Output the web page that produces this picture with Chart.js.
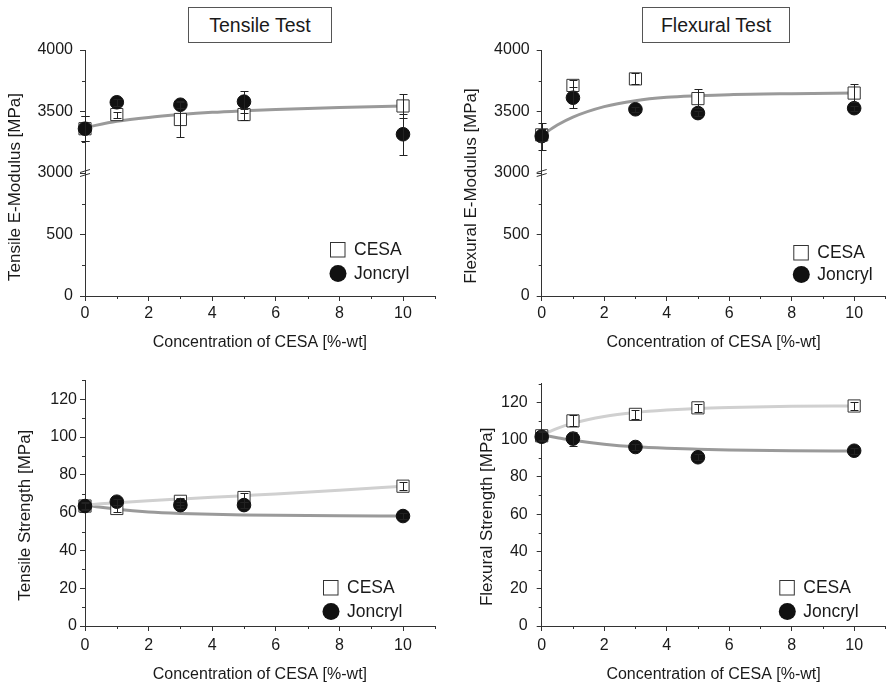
<!DOCTYPE html>
<html>
<head>
<meta charset="utf-8">
<script src="https://cdn.jsdelivr.net/npm/chart.js@4.4.1/dist/chart.umd.min.js"></script>
<style>
  body { margin: 0; width: 890px; height: 686px; overflow: hidden; background: #fff; position: relative; }
  canvas { position: absolute; }
  .ttl {
    position: absolute; box-sizing: border-box; border: 1px solid #555; color: #1a1a1a;
    font: 19.5px "Liberation Sans", Arial, sans-serif;
    display: flex; align-items: center; justify-content: center;
  }
</style>
</head>
<body>
<div class="ttl" style="left:188px;top:7px;width:144px;height:36px">Tensile Test</div>
<div class="ttl" style="left:642px;top:7px;width:148px;height:36px">Flexural Test</div>
<canvas id="tensMod" width="445" height="365" style="left:0;top:0"></canvas>
<canvas id="flexMod" width="450" height="365" style="left:445px;top:0"></canvas>
<canvas id="tensStr" width="445" height="321" style="left:0;top:365px"></canvas>
<canvas id="flexStr" width="450" height="321" style="left:445px;top:365px"></canvas>
<script>
// concentration of CESA [%-wt]
const conc = [0, 1, 3, 5, 10];
const xTickLabels = [0, 2, 4, 6, 8, 10];
const xMinorTicks = [1, 3, 5, 7, 9, 11];

const modTickLabels = [0, 500, 3000, 3500, 4000];
const modMinorTicks = [250, 750, 3250, 3750];
const strTickLabels = [0, 20, 40, 60, 80, 100, 120];
const strMinorTicks = [10, 30, 50, 70, 90, 110, 130];

// tensile E-modulus [MPa]
const tensModCesa = [3360, 3475, 3435, 3475, 3545];
const tensModCesaErr = [100, 25, 140, 45, 100];
const tensModJon = [3360, 3575, 3555, 3580, 3315];
const tensModJonErr = [100, 30, 30, 90, 165];
const tensModFitX = [0, 1, 2, 3, 4, 5, 6, 8, 10];
const tensModFit = [3370, 3420, 3452, 3475, 3493, 3506, 3517, 3533, 3545];

// flexural E-modulus [MPa]
const flexModCesa = [3310, 3712, 3765, 3605, 3650];
const flexModCesaErr = [50, 45, 45, 75, 75];
const flexModJon = [3300, 3612, 3518, 3487, 3527];
const flexModJonErr = [110, 85, 20, 20, 20];
const flexModFitX = [0, 0.5, 1, 2, 3, 4, 5, 6, 8, 10];
const flexModFit = [3305, 3390, 3455, 3540, 3588, 3615, 3628, 3637, 3645, 3650];

// strength fits share one x grid
const strFitX = [0, 0.5, 1, 2, 3, 4, 5, 6, 8, 10];

// tensile strength [MPa]
const tensStrCesa = [63.5, 62.2, 66, 68, 74];
const tensStrCesaErr = [2, 2, 2, 2.5, 2];
const tensStrJon = [63.5, 65.8, 64, 64, 58.2];
const tensStrJonErr = [1.5, 1.5, 1.5, 1.5, 1.5];
const tensStrCesaFit = [64, 64.7, 65.3, 66.3, 67.2, 68.1, 69, 69.9, 71.9, 74];
const tensStrJonFit = [64, 62.8, 61.8, 60.4, 59.6, 59.1, 58.8, 58.6, 58.3, 58.2];

// flexural strength [MPa]
const flexStrCesa = [102, 110, 113.5, 117, 118];
const flexStrCesaErr = [2.5, 3, 2.5, 2, 2];
const flexStrJon = [101.5, 100.5, 96, 90.5, 94];
const flexStrJonErr = [2.5, 3.7, 1.5, 1.5, 1.5];
const flexStrCesaFit = [102.5, 106, 108.8, 112.4, 114.5, 115.8, 116.7, 117.2, 117.8, 118];
const flexStrJonFit = [102.5, 101, 99.6, 97.5, 96.1, 95.3, 94.8, 94.4, 94, 93.8];

const FONT = '"Liberation Sans", Arial, sans-serif';
const TEXT = '#1a1a1a';
const AXIS = '#333';

// broken y axis: 0..1000 then 3000..4000 glued together
const brk = v => v >= 3000 ? v - 2000 : v;
const same = v => v;

const pts = (xs, ys, f) => xs.map((x, i) => ({ x, y: f(ys[i]) }));

const errorBars = {
  id: 'errorBars',
  afterDatasetsDraw(chart) {
    const ctx = chart.ctx, y = chart.scales.y;
    ctx.save();
    ctx.strokeStyle = '#222';
    ctx.lineWidth = 1;
    chart.data.datasets.forEach((ds, di) => {
      if (!ds.errors) return;
      chart.getDatasetMeta(di).data.forEach((el, i) => {
        const v = ds.data[i].y, e = ds.errors[i];
        const x = Math.round(el.x) + 0.5;
        const t = Math.round(y.getPixelForValue(v + e)) + 0.5;
        const b = Math.round(y.getPixelForValue(v - e)) + 0.5;
        ctx.beginPath();
        ctx.moveTo(x, t); ctx.lineTo(x, b);
        ctx.moveTo(x - 4, t); ctx.lineTo(x + 4, t);
        ctx.moveTo(x - 4, b); ctx.lineTo(x + 4, b);
        ctx.stroke();
      });
    });
    ctx.restore();
  }
};

const axisExtras = {
  id: 'axisExtras',
  afterDraw(chart, args, opts) {
    const { ctx, chartArea: a, scales: { x, y } } = chart;
    ctx.save();
    ctx.strokeStyle = AXIS;
    ctx.lineWidth = 1;
    ctx.beginPath();
    opts.xMinor.forEach(v => {
      const px = Math.round(x.getPixelForValue(v)) + 0.5;
      ctx.moveTo(px, a.bottom); ctx.lineTo(px, a.bottom + 3);
    });
    opts.yMinor.forEach(v => {
      const py = Math.round(y.getPixelForValue(v)) + 0.5;
      ctx.moveTo(a.left - 3, py); ctx.lineTo(a.left, py);
    });
    if (opts.breakAt != null) {
      const py = y.getPixelForValue(opts.breakAt);
      [-2, 2].forEach(d => {
        ctx.moveTo(a.left - 5, py + d + 1.5);
        ctx.lineTo(a.left + 5, py + d - 1.5);
      });
    }
    ctx.stroke();

    // y title, centred a little below the middle of the axis as in the original
    const yt = opts.yTitle;
    ctx.save();
    ctx.translate(yt.x, (a.top + a.bottom) / 2 + yt.dy);
    ctx.rotate(-Math.PI / 2);
    ctx.font = '17px ' + FONT;
    ctx.fillStyle = TEXT;
    ctx.textAlign = 'center';
    ctx.textBaseline = 'middle';
    ctx.fillText(yt.text, 0, 0);
    ctx.restore();

    // legend inside the plot, bottom right
    const lg = opts.legend;
    const lx = a.left + lg.dx;
    ctx.font = '17.5px ' + FONT;
    ctx.textBaseline = 'middle';
    chart.data.datasets.filter(d => d.inLegend).forEach(d => {
      const cy = a.bottom + lg.rows[d.inLegend - 1];
      if (d.pointStyle === 'rect') {
        ctx.fillStyle = '#fff';
        ctx.fillRect(lx, cy - 7, 15, 15);
        ctx.strokeRect(lx + 0.5, cy - 6.5, 14.5, 14.5);
      } else {
        ctx.fillStyle = d.backgroundColor;
        ctx.beginPath();
        ctx.arc(lx + 8, cy + 0.5, 8.5, 0, Math.PI * 2);
        ctx.fill();
      }
      ctx.fillStyle = TEXT;
      ctx.fillText(d.label, lx + 24, cy + 1);
    });
    ctx.restore();
  }
};

function panel(id, o) {
  const f = o.tf || same;
  const datasets = [
    { label: 'Joncryl', inLegend: 2, data: pts(conc, o.jon, f), errors: o.jonErr,
      pointStyle: 'circle', pointRadius: 6.8, backgroundColor: '#111', borderColor: '#111',
      borderWidth: 1, showLine: false, order: 0 },
    { label: 'CESA', inLegend: 1, data: pts(conc, o.cesa, f), errors: o.cesaErr,
      pointStyle: 'rect', pointRadius: 8.6, backgroundColor: '#fff', borderColor: '#333',
      borderWidth: 1, showLine: false, order: 1 }
  ];
  o.fits.forEach(ft => datasets.push({
    type: 'line', data: pts(ft.x, ft.y, f), borderColor: ft.color, borderWidth: 3,
    pointRadius: 0, cubicInterpolationMode: 'monotone', fill: false, order: 2
  }));

  new Chart(document.getElementById(id), {
    type: 'scatter',
    data: { datasets },
    options: {
      responsive: false,
      animation: false,
      clip: false,
      layout: { padding: o.pad },
      plugins: {
        legend: { display: false },
        tooltip: { enabled: false },
        axisExtras: { xMinor: xMinorTicks, yMinor: o.yMinor.map(f), breakAt: o.breakAt,
                      legend: o.legend, yTitle: o.yTitle }
      },
      scales: {
        x: {
          type: 'linear', min: 0, max: 11,
          afterBuildTicks: s => { s.ticks = xTickLabels.map(v => ({ value: v })); },
          afterFit: s => { s.height = o.xh; },
          ticks: { font: { family: FONT, size: 16 }, color: TEXT, padding: o.xPad, autoSkip: false, maxRotation: 0 },
          grid: { drawOnChartArea: false, drawTicks: true, tickLength: 5, tickColor: AXIS },
          border: { color: AXIS, width: 1 },
          title: { display: true, text: 'Concentration of CESA [%-wt]', font: { family: FONT, size: 16 }, color: TEXT, padding: 0 }
        },
        y: {
          type: 'linear', min: 0, max: o.ymax,
          afterBuildTicks: s => { s.ticks = o.yTicks.map(v => ({ value: f(v) })); },
          afterFit: s => { s.width = o.yw; },
          ticks: { font: { family: FONT, size: 16 }, color: TEXT, padding: o.yPad, autoSkip: false,
                   callback: (v, i) => o.yTicks[i] },
          grid: { drawOnChartArea: false, drawTicks: true, tickLength: 5, tickColor: AXIS },
          border: { color: AXIS, width: 1 }
        }
      }
    },
    plugins: [errorBars, axisExtras]
  });
}

panel('tensMod', {
  tf: brk, cesa: tensModCesa, cesaErr: tensModCesaErr, jon: tensModJon, jonErr: tensModJonErr,
  fits: [{ x: tensModFitX, y: tensModFit, color: '#9a9a9a' }],
  ymax: 2000, yTicks: modTickLabels, yMinor: modMinorTicks, breakAt: 1000,
  yTitle: { text: 'Tensile E-Modulus [MPa]', x: 15, dy: 14 },
  pad: { left: 5.4, top: 50, right: 10.2, bottom: 12.4 }, yw: 79.6, xh: 56.6, xPad: 3, yPad: 7,
  legend: { dx: 245, rows: [-47, -23] }
});

panel('flexMod', {
  tf: brk, cesa: flexModCesa, cesaErr: flexModCesaErr, jon: flexModJon, jonErr: flexModJonErr,
  fits: [{ x: flexModFitX, y: flexModFit, color: '#9a9a9a' }],
  ymax: 2000, yTicks: modTickLabels, yMinor: modMinorTicks, breakAt: 1000,
  yTitle: { text: 'Flexural E-Modulus [MPa]', x: 26, dy: 13 },
  pad: { left: 16.4, top: 50, right: 2.4, bottom: 12.4 }, yw: 80.3, xh: 56.6, xPad: 3, yPad: 7,
  legend: { dx: 251.6, rows: [-44, -22] }
});

panel('tensStr', {
  cesa: tensStrCesa, cesaErr: tensStrCesaErr, jon: tensStrJon, jonErr: tensStrJonErr,
  fits: [{ x: strFitX, y: tensStrCesaFit, color: '#d0d0d0' }, { x: strFitX, y: tensStrJonFit, color: '#9a9a9a' }],
  ymax: 130, yTicks: strTickLabels, yMinor: strMinorTicks,
  yTitle: { text: 'Tensile Strength [MPa]', x: 25, dy: 12 },
  pad: { left: 15.4, top: 15.4, right: 10.2, bottom: 1.4 }, yw: 69.6, xh: 58.6, xPad: 5, yPad: 3,
  legend: { dx: 238, rows: [-39, -15] }
});

panel('flexStr', {
  cesa: flexStrCesa, cesaErr: flexStrCesaErr, jon: flexStrJon, jonErr: flexStrJonErr,
  fits: [{ x: strFitX, y: flexStrCesaFit, color: '#d0d0d0' }, { x: strFitX, y: flexStrJonFit, color: '#9a9a9a' }],
  ymax: 130, yTicks: strTickLabels, yMinor: strMinorTicks,
  yTitle: { text: 'Flexural Strength [MPa]', x: 42.5, dy: 12 },
  pad: { left: 32.9, top: 15.4, right: 2.4, bottom: 1.4 }, yw: 63.8, xh: 58.6, xPad: 5, yPad: 9,
  legend: { dx: 237.6, rows: [-39, -15] }
});
</script>
</body>
</html>
